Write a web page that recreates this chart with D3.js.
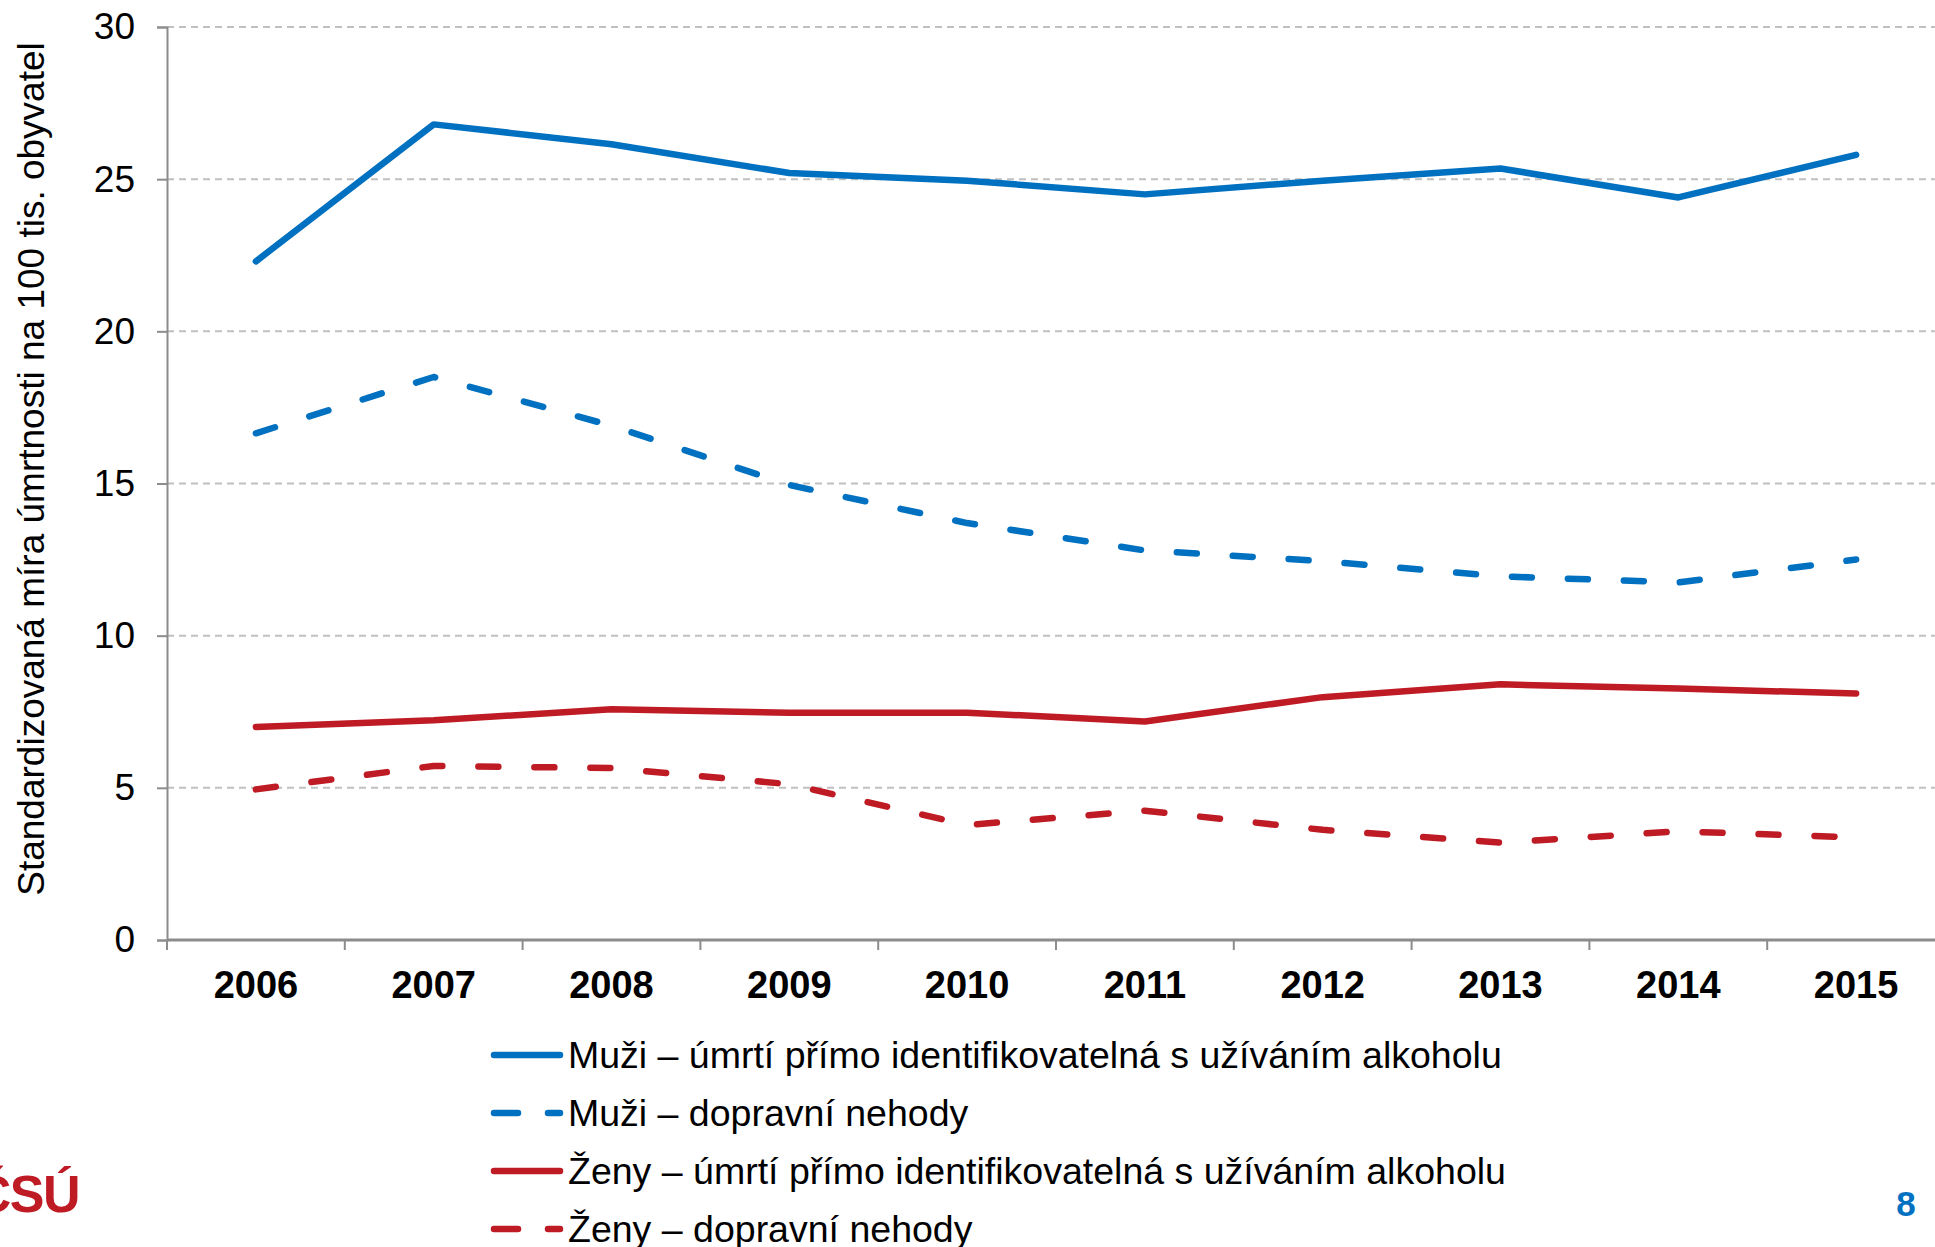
<!DOCTYPE html>
<meta charset="utf-8">
<script src="https://d3js.org/d3.v7.min.js"></script>
<style>
  body { margin: 0; background: #fff; }
  text { font-family: Arial, "Liberation Sans", sans-serif; }
</style>
<div id="chart"></div>
<script>
// data
var years = ["2006","2007","2008","2009","2010","2011","2012","2013","2014","2015"];
var muziAlkohol = [22.3, 26.8, 26.15, 25.2, 24.95, 24.5, 24.95, 25.35, 24.4, 25.8];
var muziNehody  = [16.65, 18.5, 16.9, 14.95, 13.7, 12.8, 12.45, 11.95, 11.75, 12.5];
var zenyAlkohol = [7.0, 7.22, 7.58, 7.47, 7.47, 7.18, 7.98, 8.4, 8.26, 8.1];
var zenyNehody  = [4.95, 5.72, 5.65, 5.12, 3.78, 4.25, 3.62, 3.2, 3.57, 3.37];
var yTicks = [0, 5, 10, 15, 20, 25, 30];
var seriesNames = [
  "Muži – úmrtí přímo identifikovatelná s užíváním alkoholu",
  "Muži – dopravní nehody",
  "Ženy – úmrtí přímo identifikovatelná s užíváním alkoholu",
  "Ženy – dopravní nehody"
];

var blue = "#0070c0", red = "#be1b24";
var series = [
  {name: seriesNames[0], values: muziAlkohol, color: blue, dash: null},
  {name: seriesNames[1], values: muziNehody,  color: blue, dash: "20,36"},
  {name: seriesNames[2], values: zenyAlkohol, color: red,  dash: null},
  {name: seriesNames[3], values: zenyNehody,  color: red,  dash: "20,36"}
];

var W = 1935, H = 1247;
var m = {left: 167, top: 27, bottom: 940, right: 1945};

var svg = d3.select("#chart").append("svg")
    .attr("width", W)
    .attr("height", H);

var x = d3.scalePoint()
    .domain(years)
    .range([m.left, m.right])
    .padding(0.5);
var step = x.step();

var y = d3.scaleLinear()
    .domain([0, 30])
    .range([m.bottom, m.top]);

// gridlines
svg.append("g")
  .selectAll("line")
  .data(yTicks.filter(function(d){ return d > 0; }))
  .enter().append("line")
    .attr("x1", m.left).attr("x2", W)
    .attr("y1", function(d){ return y(d); })
    .attr("y2", function(d){ return y(d); })
    .attr("stroke", "#c0c0c0")
    .attr("stroke-width", 2)
    .attr("stroke-dasharray", "7,5");

// y axis
var yAxis = svg.append("g")
    .attr("transform", "translate(" + m.left + ",0)")
    .call(d3.axisLeft(y).tickValues(yTicks).tickSize(10).tickPadding(22));
yAxis.select(".domain").attr("stroke", "#8c8c8c").attr("stroke-width", 2);
yAxis.selectAll(".tick line").attr("stroke", "#8c8c8c").attr("stroke-width", 2);
yAxis.selectAll("text")
    .attr("font-size", 37)
    .attr("font-family", "Arial, 'Liberation Sans', sans-serif")
    .attr("fill", "#000");

// x axis
var xg = svg.append("g");
xg.append("line")
    .attr("x1", m.left).attr("x2", W)
    .attr("y1", m.bottom).attr("y2", m.bottom)
    .attr("stroke", "#8c8c8c").attr("stroke-width", 3);
xg.selectAll(".xtick")
  .data(years.concat(["end"]))
  .enter().append("line")
    .attr("class", "xtick")
    .attr("x1", function(d, i){ return m.left + i * step; })
    .attr("x2", function(d, i){ return m.left + i * step; })
    .attr("y1", m.bottom).attr("y2", m.bottom + 10)
    .attr("stroke", "#8c8c8c").attr("stroke-width", 2);
xg.selectAll(".xlabel")
  .data(years)
  .enter().append("text")
    .attr("class", "xlabel")
    .attr("x", function(d){ return x(d); })
    .attr("y", m.bottom + 58)
    .attr("text-anchor", "middle")
    .attr("font-size", 38)
    .attr("font-weight", "bold")
    .text(function(d){ return d; });

// y title
svg.append("text")
    .attr("transform", "translate(44,469) rotate(-90)")
    .attr("text-anchor", "middle")
    .attr("font-size", 37)
    .text("Standardizovaná míra úmrtnosti na 100 tis. obyvatel");

// lines
var line = d3.line()
    .x(function(d, i){ return x(years[i]); })
    .y(function(d){ return y(d); });

svg.append("g")
  .selectAll("path")
  .data(series)
  .enter().append("path")
    .attr("d", function(s){ return line(s.values); })
    .attr("fill", "none")
    .attr("stroke", function(s){ return s.color; })
    .attr("stroke-width", 6.5)
    .attr("stroke-linecap", "round")
    .attr("stroke-linejoin", "round")
    .attr("stroke-dasharray", function(s){ return s.dash; });

// legend
var legend = svg.append("g").attr("transform", "translate(491,1055)");
var rows = legend.selectAll("g")
  .data(series)
  .enter().append("g")
    .attr("transform", function(d, i){ return "translate(0," + (i * 58) + ")"; });
rows.append("line")
    .attr("x1", 3).attr("x2", 69)
    .attr("y1", 0).attr("y2", 0)
    .attr("stroke", function(s){ return s.color; })
    .attr("stroke-width", 6.5)
    .attr("stroke-linecap", "round")
    .attr("stroke-dasharray", function(s){ return s.dash ? "24,30" : null; });
rows.append("text")
    .attr("x", 77)
    .attr("y", 13)
    .attr("font-size", 37.5)
    .attr("fill", "#000")
    .text(function(s){ return s.name; });

// logo and page number
svg.append("text")
    .attr("x", 79).attr("y", 1212)
    .attr("text-anchor", "end")
    .attr("font-size", 52)
    .attr("font-weight", "bold")
    .attr("letter-spacing", -1.5)
    .attr("font-family", "'Open Sans', sans-serif")
    .attr("fill", red)
    .text("ČSÚ");

svg.append("text")
    .attr("x", 1906).attr("y", 1216)
    .attr("text-anchor", "middle")
    .attr("font-size", 35)
    .attr("font-weight", "bold")
    .attr("fill", blue)
    .text("8");
</script>
